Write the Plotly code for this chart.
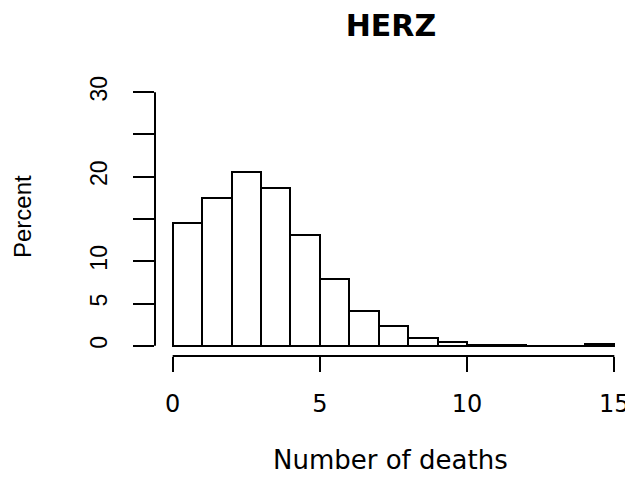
import plotly.graph_objects as go

# histograma: porcentaje de muertes por bin de ancho 1
bin_left = [0, 1, 2, 3, 4, 5, 6, 7, 8, 9, 10, 11, 12, 13, 14]
percent = [14.55, 17.5, 20.5, 18.65, 13.1, 7.85, 4.1, 2.3, 0.9, 0.45, 0.15, 0.15, 0.0, 0.0, 0.2]

x_ticks = [0, 5, 10, 15]
y_ticks = [0, 5, 10, 15, 20, 25, 30]
y_ticktext = ["0", "5", "10", "", "20", "", "30"]

# la página tiene 8px de margen en el body, se compensa aquí
W, H = 625, 470

fig = go.Figure()
fig.add_trace(go.Bar(
    x=bin_left, y=percent, width=1, offset=0,
    marker=dict(color="white", line=dict(color="black", width=2)),
    showlegend=False, hoverinfo="skip",
))

fig.update_layout(
    width=W, height=H,
    margin=dict(l=147, r=1, t=74, b=122),
    paper_bgcolor="white", plot_bgcolor="white",
    font=dict(family="DejaVu Sans", color="black"),
    title=dict(text="<b>HERZ</b>", x=383/W, xanchor="center",
               y=1 - 17.5/H, yanchor="middle", yref="container",
               font=dict(family="DejaVu Sans", size=30, color="black"),
               automargin=False),
    bargap=0,
)

fig.update_xaxes(range=[-0.6, 15.6], showgrid=False, zeroline=False, showline=False,
                 automargin=False,
                 tickvals=x_ticks, ticks="outside", ticklen=15, tickwidth=2,
                 tickcolor="black", ticklabelstandoff=11,
                 tickfont=dict(family="DejaVu Sans", size=24))
fig.update_yaxes(range=[-1.2, 31.2], showgrid=False, zeroline=False, showline=False,
                 automargin=False,
                 tickvals=y_ticks, ticktext=y_ticktext, ticks="outside", ticklen=21,
                 tickwidth=2, tickcolor="black", tickangle=-90, ticklabelstandoff=17,
                 tickfont=dict(family="Liberation Sans", size=23))

# líneas de ejes estilo R (sólo entre primer y último tick)
fig.add_shape(type="line", xref="paper", yref="y", x0=0, x1=0, y0=y_ticks[0], y1=y_ticks[-1],
              line=dict(color="black", width=2))
fig.add_shape(type="line", xref="x", yref="paper", x0=x_ticks[0], x1=x_ticks[-1], y0=0, y1=0,
              line=dict(color="black", width=2))

fig.add_annotation(text="Number of deaths", xref="paper", yref="paper",
                   x=(390 - 155) / 477, y=-104 / 274, xanchor="center", yanchor="middle",
                   showarrow=False, font=dict(family="DejaVu Sans", size=26))
fig.add_annotation(text="Percent", xref="paper", yref="paper", textangle=-90,
                   x=(22 - 155) / 477, y=(356 - 217) / 274, xanchor="center", yanchor="middle",
                   showarrow=False, font=dict(family="Liberation Sans", size=24))

fig.write_html("out.html")
